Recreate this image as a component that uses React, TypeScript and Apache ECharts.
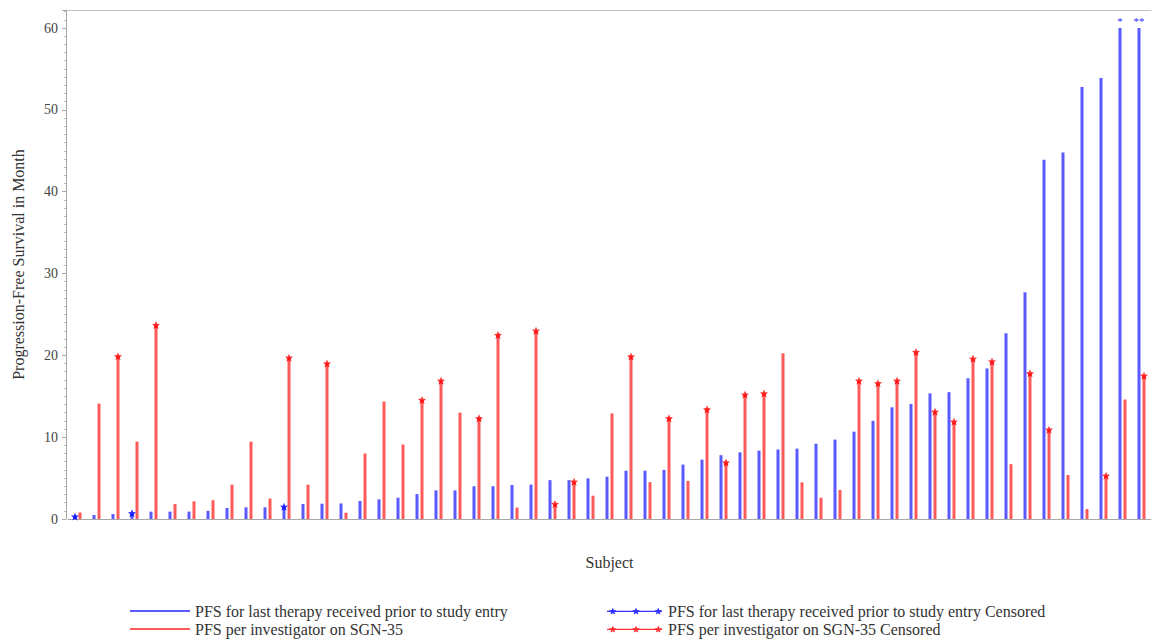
import React, { useEffect, useRef } from "react";
import * as echarts from "echarts";

const subjects = [
  "1", "2", "3", "4", "5", "6", "7", "8", "9", "10",
  "11", "12", "13", "14", "15", "16", "17", "18", "19", "20",
  "21", "22", "23", "24", "25", "26", "27", "28", "29", "30",
  "31", "32", "33", "34", "35", "36", "37", "38", "39", "40",
  "41", "42", "43", "44", "45", "46", "47", "48", "49", "50",
  "51", "52", "53", "54", "55", "56", "57",
];

const priorPFS = [
  0.3, 0.5, 0.6, 0.7, 0.9, 0.9, 0.9, 1.0, 1.35, 1.43,
  1.43, 1.5, 1.83, 1.87, 1.9, 2.2, 2.4, 2.6, 3.05, 3.5,
  3.5, 4.0, 4.0, 4.15, 4.2, 4.75, 4.75, 4.97, 5.17, 5.9,
  5.9, 6.0, 6.65, 7.25, 7.8, 8.15, 8.35, 8.5, 8.6, 9.2,
  9.7, 10.67, 12.0, 13.65, 14.06, 15.35, 15.5, 17.2, 18.4, 22.7,
  27.7, 43.9, 44.8, 52.8, 53.9, 60, 60,
];

const sgnPFS = [
  0.8, 14.1, 19.9, 9.45, 23.7, 1.83, 2.16, 2.3, 4.2, 9.45,
  2.5, 19.7, 4.2, 19.0, 0.77, 8.0, 14.35, 9.1, 14.55, 16.9,
  13.0, 12.3, 22.5, 1.4, 23.0, 1.83, 4.56, 2.85, 12.9, 19.85,
  4.5, 12.3, 4.65, 13.4, 6.9, 15.2, 15.35, 20.25, 4.48, 2.6,
  3.55, 16.9, 16.6, 16.9, 20.4, 13.1, 11.9, 19.6, 19.25, 6.7,
  17.8, 10.9, 5.38, 1.22, 5.3, 14.6, 17.5,
];

// subject numbers whose PFS is censored
const priorCensoredSubjects = [1, 4, 12];
const sgnCensoredSubjects = [
  3, 5, 12, 14, 19, 20, 22, 23, 25, 26, 27, 30, 32, 34, 35, 36, 37,
  42, 43, 44, 45, 46, 47, 48, 49, 51, 52, 55, 57,
];

// footnote marks above truncated bars (subject -> mark)
const priorNotes: Record<string, string> = { "56": "*", "57": "**" };

const yTicks = [0, 10, 20, 30, 40, 50, 60];

const NAME_PRIOR = "PFS for last therapy received prior to study entry";
const NAME_SGN = "PFS per investigator on SGN-35";
const NAME_PRIOR_C = "PFS for last therapy received prior to study entry Censored";
const NAME_SGN_C = "PFS per investigator on SGN-35 Censored";

const FONT = "Liberation Serif";

function starPath(cx: number, cy: number, R: number, r: number): string {
  const pts: string[] = [];
  for (let k = 0; k < 10; k++) {
    const ang = (-90 + k * 36) * (Math.PI / 180);
    const rad = k % 2 === 0 ? R : r;
    const x = cx + rad * Math.cos(ang);
    const y = cy + rad * Math.sin(ang);
    pts.push((k === 0 ? "M" : "L") + x.toFixed(2) + "," + y.toFixed(2));
  }
  return pts.join(" ") + " Z";
}

const STAR_SYMBOL = "path://" + starPath(0, 0, 10, 4.6);
const LEGEND_STAR_ICON =
  "path://M0,3.3 L57,3.3 L57,4.7 L0,4.7 Z " +
  starPath(6, 4, 4, 1.9) + " " + starPath(30, 4, 4, 1.9) + " " + starPath(53, 4, 4, 1.9);

export default function App() {
  const ref = useRef<HTMLDivElement>(null);

  useEffect(() => {
    document.body.style.margin = "0";
    if (!ref.current) return;
    const chart = echarts.init(ref.current, undefined, { renderer: "svg" });

    const priorCensored = subjects.map((s, i) =>
      priorCensoredSubjects.includes(i + 1) ? priorPFS[i] : null
    );
    const sgnCensored = subjects.map((s, i) =>
      sgnCensoredSubjects.includes(i + 1) ? sgnPFS[i] : null
    );
    const priorData = subjects.map((s, i) =>
      priorNotes[s]
        ? {
            value: priorPFS[i],
            label: {
              show: true,
              position: "top",
              distance: 2,
              formatter: priorNotes[s],
              color: "#3030ff",
              fontSize: 11,
              fontFamily: FONT,
            },
          }
        : priorPFS[i]
    );

    const textStyle = { fontFamily: FONT, fontSize: 16, color: "#333" };

    chart.setOption({
      animation: false,
      backgroundColor: "#fff",
      grid: { left: 68, top: 10, width: 1083, height: 509, containLabel: false },
      xAxis: [
        {
          type: "category",
          data: subjects,
          position: "bottom",
          axisLine: { show: true, lineStyle: { color: "#a8a8a8", width: 1 } },
          axisTick: { show: false },
          axisLabel: { show: false },
          name: "Subject",
          nameLocation: "middle",
          nameGap: 35,
          nameTextStyle: textStyle,
        },
        {
          type: "category",
          data: subjects,
          position: "top",
          axisLine: { show: true, lineStyle: { color: "#c0c0c0", width: 1 } },
          axisTick: { show: false },
          axisLabel: { show: false },
        },
      ],
      yAxis: {
        type: "value",
        min: 0,
        max: 62.2,
        interval: 10,
        offset: 2,
        axisLine: { show: true, lineStyle: { color: "#a8a8a8", width: 1 } },
        axisTick: { show: true, inside: false, length: 4, lineStyle: { color: "#a8a8a8" } },
        minorTick: { show: true, splitNumber: 10, length: 2, lineStyle: { color: "#b8b8b8" } },
        splitLine: { show: false },
        axisLabel: {
          margin: 8,
          fontFamily: FONT,
          fontSize: 14,
          color: "#444",
          formatter: (v: number) => (yTicks.includes(v) ? String(v) : ""),
        },
        name: "Progression-Free Survival in Month",
        nameLocation: "middle",
        nameGap: 40,
        nameTextStyle: textStyle,
      },
      legend: [
        {
          orient: "vertical",
          left: 130,
          top: 602,
          padding: 0,
          itemGap: 0,
          itemWidth: 60,
          itemHeight: 2,
          icon: "rect",
          textStyle: { ...textStyle, lineHeight: 18 },
          data: [NAME_PRIOR, NAME_SGN],
        },
        {
          orient: "vertical",
          left: 607,
          top: 602,
          padding: 0,
          itemGap: 0,
          itemWidth: 57,
          itemHeight: 7,
          textStyle: { ...textStyle, lineHeight: 18 },
          data: [
            { name: NAME_PRIOR_C, icon: LEGEND_STAR_ICON },
            { name: NAME_SGN_C, icon: LEGEND_STAR_ICON },
          ],
        },
      ],
      series: [
        {
          name: NAME_PRIOR,
          type: "bar",
          data: priorData,
          barWidth: 3,
          barGap: "67%",
          itemStyle: { color: "#5a5aff" },
        },
        {
          name: NAME_SGN,
          type: "bar",
          data: sgnPFS,
          barWidth: 3,
          barGap: "67%",
          itemStyle: { color: "#ff5a5a" },
        },
        {
          name: NAME_PRIOR_C,
          type: "scatter",
          data: priorCensored,
          symbol: STAR_SYMBOL,
          symbolSize: 8,
          symbolOffset: [-2.5, 0],
          itemStyle: { color: "#0000ff" },
          z: 5,
        },
        {
          name: NAME_SGN_C,
          type: "scatter",
          data: sgnCensored,
          symbol: STAR_SYMBOL,
          symbolSize: 8,
          symbolOffset: [2.5, 0],
          itemStyle: { color: "#ff0000" },
          z: 5,
        },
      ],
    });

    return () => chart.dispose();
  }, []);

  return <div ref={ref} style={{ width: 1153, height: 641 }} />;
}
